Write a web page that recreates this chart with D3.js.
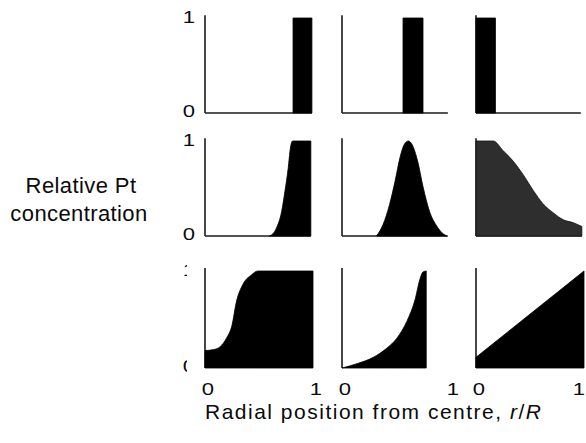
<!DOCTYPE html>
<html>
<head>
<meta charset="utf-8">
<script src="https://cdn.jsdelivr.net/npm/d3@7"></script>
<style>
  html, body { margin: 0; padding: 0; background: #fff; }
  svg text { font-family: "Liberation Sans", Arial, Helvetica, sans-serif; fill: #0a0a0a; }
</style>
</head>
<body>
<svg id="chart" width="586" height="443"></svg>
<script>
// Radial Pt concentration profiles, three rows x three columns.
// Each profile: radial positions r/R and relative concentration.
const shellR = [0.815, 0.99];
const shellC = [1, 1];
const bandR = [0.565, 0.75];
const bandC = [1, 1];
const coreR = [0, 0.18];
const coreC = [1, 1];

const risingR = [0.60, 0.66, 0.71, 0.74, 0.77, 0.79, 0.81, 0.98];
const risingC = [0, 0.08, 0.26, 0.47, 0.71, 0.92, 1, 1];
const peakR = [0.32, 0.38, 0.44, 0.49, 0.54, 0.58, 0.615, 0.65, 0.70, 0.75, 0.81, 0.88, 0.94, 0.97];
const peakC = [0, 0.12, 0.33, 0.57, 0.84, 0.97, 1, 0.96, 0.79, 0.52, 0.26, 0.10, 0.02, 0];
const fallingR = [0, 0.16, 0.25, 0.35, 0.44, 0.53, 0.62, 0.72, 0.81, 0.90, 0.98];
const fallingC = [1, 1, 0.90, 0.78, 0.64, 0.48, 0.34, 0.24, 0.17, 0.14, 0.10];

const sigmoidR = [0, 0.08, 0.14, 0.20, 0.25, 0.29, 0.35, 0.43, 0.49, 1.0];
const sigmoidC = [0.18, 0.19, 0.22, 0.31, 0.44, 0.68, 0.86, 0.96, 1, 1];
const convexR = [0, 0.14, 0.29, 0.41, 0.51, 0.60, 0.68, 0.72, 0.75, 0.78];
const convexC = [0, 0.045, 0.11, 0.20, 0.31, 0.48, 0.72, 0.91, 0.99, 1.0];
const linearR = [0, 1];
const linearC = [0.11, 1];

const yTickLabels = ["0", "1"];
const xTickLabels = ["0", "1"];
const yTitle = ["Relative Pt", "concentration"];
const xTitle = "Radial position from centre, ";

const panels = [
  [
    { r: shellR, c: shellC, smooth: false, base: 0.99 },
    { r: bandR, c: bandC, smooth: false, base: 0.98 },
    { r: coreR, c: coreC, smooth: false, base: 0.97 }
  ],
  [
    { r: risingR, c: risingC, smooth: true, base: 0.98 },
    { r: peakR, c: peakC, smooth: true, base: 0.98 },
    { r: fallingR, c: fallingC, smooth: true, base: 0.98, fill: "#2e2e2e" }
  ],
  [
    { r: sigmoidR, c: sigmoidC, smooth: true, base: null },
    { r: convexR, c: convexC, smooth: true, base: null },
    { r: linearR, c: linearC, smooth: false, base: null }
  ]
];

const colLeft = [205, 342, 476];
const colWidth = 108;
const rowTop = [18, 141, 271];
const rowBottom = [113, 236, 368];

const svg = d3.select("#chart");

svg.append("clipPath").attr("id", "lastRowLabels")
  .append("rect").attr("x", 0).attr("y", 260).attr("width", 187).attr("height", 120);

panels.forEach((row, i) => {
  const y = d3.scaleLinear().domain([0, 1]).range([rowBottom[i], rowTop[i]]);
  row.forEach((p, j) => {
    const x = d3.scaleLinear().domain([0, 1]).range([colLeft[j], colLeft[j] + colWidth]);
    const g = svg.append("g");
    const pts = p.r.map((rv, k) => [rv, p.c[k]]);

    // baseline and vertical axis
    if (p.base !== null) {
      g.append("line")
        .attr("x1", x(0)).attr("x2", x(p.base))
        .attr("y1", y(0)).attr("y2", y(0))
        .attr("stroke", "#1a1a1a").attr("stroke-width", 1.6);
    }
    g.append("line")
      .attr("x1", x(0)).attr("x2", x(0))
      .attr("y1", y(1.03)).attr("y2", y(0))
      .attr("stroke", "#1a1a1a").attr("stroke-width", 1.6);

    const area = d3.area()
      .x(d => x(d[0]))
      .y0(y(0))
      .y1(d => y(d[1]))
      .curve(p.smooth ? d3.curveMonotoneX : d3.curveLinear);

    g.append("path")
      .datum(pts)
      .attr("d", area)
      .attr("fill", p.fill || "#000")
      .attr("stroke", p.fill ? "#111" : "#000")
      .attr("stroke-width", 0.8);
  });

  // y tick labels, left of the first column
  const lab = svg.append("g");
  if (i === 2) lab.attr("clip-path", "url(#lastRowLabels)");
  yTickLabels.forEach((t, k) => {
    lab.append("text")
      .attr("transform", `translate(195,${y(+t) + (k === 0 ? 4 : 5)}) scale(1.3,1)`)
      .attr("text-anchor", "end")
      .attr("font-size", 17)
      .text(t);
  });
});

// x tick labels under the bottom row
colLeft.forEach(c0 => {
  const x = d3.scaleLinear().domain([0, 1]).range([c0, c0 + colWidth]);
  xTickLabels.forEach(t => {
    const px = Math.min(x(+t) + 3, 579);
    svg.append("text")
      .attr("transform", `translate(${px},395) scale(1.3,1)`)
      .attr("text-anchor", "middle")
      .attr("font-size", 17)
      .text(t);
  });
});

// axis titles
const yt = svg.append("text")
  .attr("text-anchor", "middle")
  .attr("font-size", 22)
  .attr("letter-spacing", 0.4);
yt.append("tspan").attr("x", 81).attr("y", 193).text(yTitle[0]);
yt.append("tspan").attr("x", 79).attr("y", 221).text(yTitle[1]);

const xt = svg.append("text")
  .attr("x", 205).attr("y", 419)
  .attr("font-size", 21)
  .attr("letter-spacing", 1.5);
xt.append("tspan").text(xTitle);
xt.append("tspan").attr("font-style", "italic").text("r");
xt.append("tspan").text("/");
xt.append("tspan").attr("font-style", "italic").text("R");
</script>
</body>
</html>
